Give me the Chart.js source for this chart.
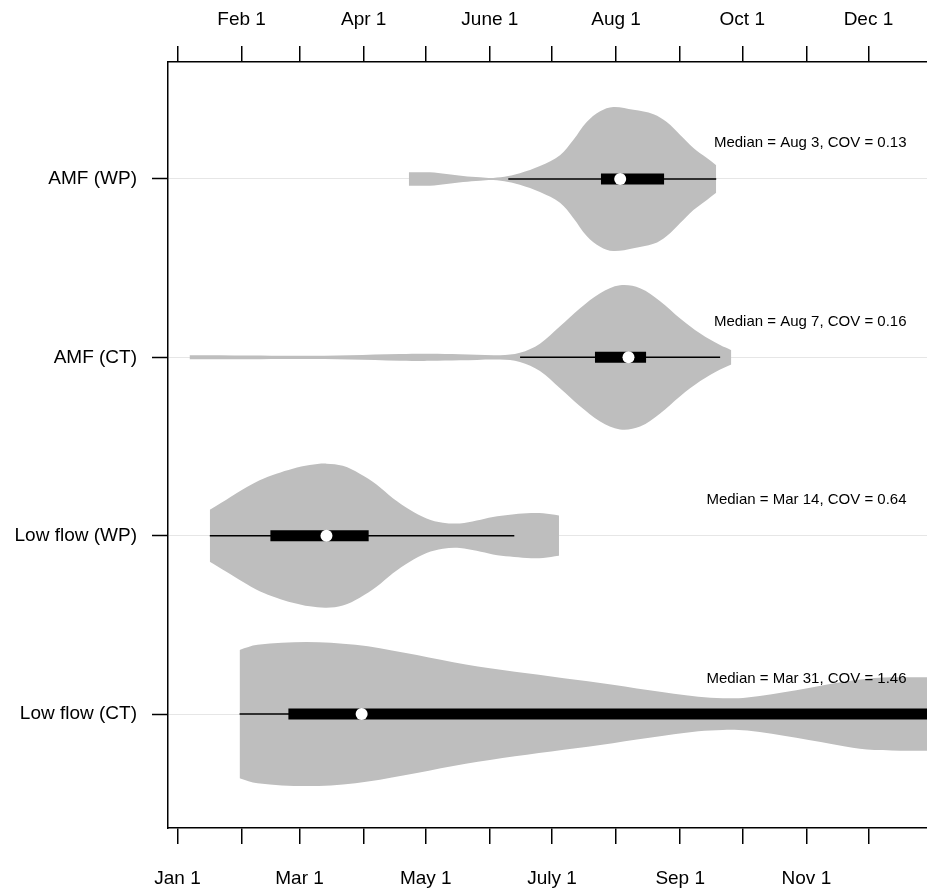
<!DOCTYPE html>
<html>
<head>
<meta charset="utf-8">
<script src="https://cdn.jsdelivr.net/npm/chart.js@4.4.1/dist/chart.umd.min.js"></script>
<style>
  html, body { margin: 0; padding: 0; background: #fff; overflow: hidden; }
  canvas { display: block; }
</style>
</head>
<body>
<canvas id="c" width="927" height="889"></canvas>
<script>
// ---------------- data ----------------
const categories = ['AMF (WP)', 'AMF (CT)', 'Low flow (WP)', 'Low flow (CT)'];

const monthTickDays = [0, 31, 59, 90, 120, 151, 181, 212, 243, 273, 304, 334];
const monthTickLabels = ['Jan 1', 'Feb 1', 'Mar 1', 'Apr 1', 'May 1', 'June 1',
                         'July 1', 'Aug 1', 'Sep 1', 'Oct 1', 'Nov 1', 'Dec 1'];

// violin density outlines (day of year, relative density)
const amfWpDays    = [111.8, 122, 130, 138.1, 146.2, 152.6, 159.9, 165.5, 175.2, 184.9, 191.3, 197.8, 204.3, 210.7, 220.4, 230.1, 236.5, 243, 249.4, 255.9, 260.4];
const amfWpDensity = [0.093, 0.093, 0.07, 0.042, 0.024, 0.014, 0.04, 0.079, 0.18, 0.33, 0.54, 0.79, 0.94, 1.0, 0.96, 0.90, 0.79, 0.61, 0.43, 0.29, 0.19];

const amfCtDays    = [5.8, 34.8, 59, 83.3, 107.5, 122, 136.5, 155.9, 165.5, 175.2, 184.9, 194.6, 204.3, 213.9, 223.6, 233.3, 243, 252.7, 262.3, 267.7];
const amfCtDensity = [0.028, 0.025, 0.022, 0.03, 0.046, 0.049, 0.042, 0.03, 0.063, 0.19, 0.43, 0.68, 0.89, 1.0, 0.96, 0.78, 0.54, 0.33, 0.17, 0.10];

const lowWpDays    = [15.6, 23.6, 31.5, 39.7, 47.8, 55.7, 63.9, 72, 79.9, 88.1, 96.2, 104.1, 112.3, 120.4, 128.3, 136.5, 144.6, 152.5, 160.7, 168.8, 176.7, 184.4];
const lowWpDensity = [0.36, 0.50, 0.64, 0.77, 0.86, 0.93, 0.98, 1.0, 0.97, 0.86, 0.71, 0.52, 0.36, 0.24, 0.18, 0.17, 0.21, 0.26, 0.29, 0.31, 0.31, 0.28];

const lowCtDays    = [30, 38.7, 62.3, 86, 109.7, 133.3, 157.1, 180.7, 204.4, 228.1, 251.8, 263.6, 275.4, 299.1, 322.8, 336.9, 353.6, 365, 380];
const lowCtDensity = [0.89, 0.96, 1.0, 0.96, 0.85, 0.72, 0.61, 0.52, 0.43, 0.33, 0.24, 0.22, 0.23, 0.33, 0.45, 0.50, 0.51, 0.51, 0.51];

// box-plot summaries (day of year), same order as categories
const whiskerLow  = [159.9, 165.6, 15.6, 30];
const quartile1   = [204.7, 201.8, 44.9, 53.6];
const medians     = [214, 218, 72, 89];
const quartile3   = [235.2, 226.5, 92.4, 375];
const whiskerHigh = [260.4, 262.3, 162.8, 400];

const annotationTexts = ['Median = Aug 3, COV = 0.13', 'Median = Aug 7, COV = 0.16',
                         'Median = Mar 14, COV = 0.64', 'Median = Mar 31, COV = 1.46'];

// ---------------- build ----------------
const violinDays = [amfWpDays, amfCtDays, lowWpDays, lowCtDays];
const violinDens = [amfWpDensity, amfCtDensity, lowWpDensity, lowCtDensity];
const HALF = 0.404;           // max half-width of a violin in category units
const FONT = "'Liberation Sans', Arial, Helvetica, sans-serif";
const catY = i => categories.length - i;

const datasets = [];
categories.forEach((c, i) => {
  const yc = catY(i);
  const d = violinDays[i], w = violinDens[i];
  datasets.push({
    type: 'line', label: c + ' upper', order: 3,
    data: d.map((x, k) => ({ x, y: yc + w[k] * HALF })),
    borderWidth: 0, pointRadius: 0, backgroundColor: '#bebebe', borderColor: '#bebebe',
    fill: '+1', tension: 0.35
  });
  datasets.push({
    type: 'line', label: c + ' lower', order: 3,
    data: d.map((x, k) => ({ x, y: yc - w[k] * HALF })),
    borderWidth: 0, pointRadius: 0, backgroundColor: '#bebebe', borderColor: '#bebebe',
    fill: false, tension: 0.35
  });
});
categories.forEach((c, i) => {
  const yc = catY(i);
  datasets.push({
    type: 'line', label: c + ' whisker', order: 2,
    data: [{ x: whiskerLow[i], y: yc }, { x: whiskerHigh[i], y: yc }],
    borderColor: '#000', borderWidth: 1.5, pointRadius: 0, fill: false
  });
  datasets.push({
    type: 'line', label: c + ' box', order: 1,
    data: [{ x: quartile1[i], y: yc }, { x: quartile3[i], y: yc }],
    borderColor: '#000', borderWidth: 11, borderCapStyle: 'butt', pointRadius: 0, fill: false
  });
  datasets.push({
    type: 'line', label: c + ' median', order: 0, showLine: false,
    data: [{ x: medians[i], y: yc }],
    pointRadius: 6, pointBackgroundColor: '#fff', pointBorderWidth: 0, pointBorderColor: '#fff'
  });
});

const annotationPlugin = {
  id: 'annot',
  afterDatasetsDraw(chart) {
    const { ctx, scales } = chart;
    ctx.save();
    ctx.font = '15px ' + FONT;
    ctx.fillStyle = '#000';
    ctx.textAlign = 'right';
    ctx.textBaseline = 'middle';
    annotationTexts.forEach((t, i) => {
      ctx.fillText(t, scales.x.getPixelForValue(352.4), scales.y.getPixelForValue(catY(i) + 0.2));
    });
    ctx.restore();
  }
};

const xMin = -4.6, xMax = 362.3;
const monthTicks = s => { s.ticks = monthTickDays.map(v => ({ value: v })); };
const noPad = s => { s.paddingLeft = 0; s.paddingRight = 0; s.paddingTop = 0; s.paddingBottom = 0; };

new Chart(document.getElementById('c'), {
  type: 'line',
  data: { datasets },
  options: {
    responsive: false,
    animation: false,
    layout: { padding: 0, autoPadding: false },
    plugins: { legend: { display: false }, tooltip: { enabled: false } },
    scales: {
      x: {
        type: 'linear', position: 'bottom', min: xMin, max: xMax,
        afterBuildTicks: monthTicks,
        afterFit: s => { s.height = 61; noPad(s); },
        ticks: {
          autoSkip: false, maxRotation: 0, minRotation: 0, padding: 23, color: '#000',
          font: { family: FONT, size: 19 },
          callback: v => { const k = monthTickDays.indexOf(v); return k % 2 === 0 ? monthTickLabels[k] : ''; }
        },
        grid: { drawOnChartArea: false, tickLength: 16, color: '#000', tickColor: '#000', lineWidth: 1.5, tickWidth: 1.5 },
        border: { display: true, color: '#000', width: 1.5 }
      },
      x2: {
        type: 'linear', position: 'top', display: true, min: xMin, max: xMax,
        afterBuildTicks: monthTicks,
        afterFit: s => { s.height = 62; noPad(s); },
        ticks: {
          autoSkip: false, maxRotation: 0, minRotation: 0, padding: 15, color: '#000',
          font: { family: FONT, size: 19 },
          callback: v => { const k = monthTickDays.indexOf(v); return k % 2 === 1 ? monthTickLabels[k] : ''; }
        },
        grid: { drawOnChartArea: false, tickLength: 16, color: '#000', tickColor: '#000', lineWidth: 1.5, tickWidth: 1.5 },
        border: { display: true, color: '#000', width: 1.5 }
      },
      y: {
        type: 'linear', position: 'left', min: 0.361, max: 4.656,
        afterBuildTicks: s => { s.ticks = categories.map((c, i) => ({ value: catY(i) })); },
        afterFit: s => { s.width = 168; noPad(s); },
        ticks: {
          padding: 15, color: '#000', font: { family: FONT, size: 19 },
          callback: v => categories[categories.length - v]
        },
        grid: { color: '#e6e6e6', lineWidth: 1, tickColor: '#000', tickWidth: 1.5, tickLength: 16 },
        border: { display: true, color: '#000', width: 1.5 }
      }
    }
  },
  plugins: [annotationPlugin]
});
</script>
</body>
</html>
